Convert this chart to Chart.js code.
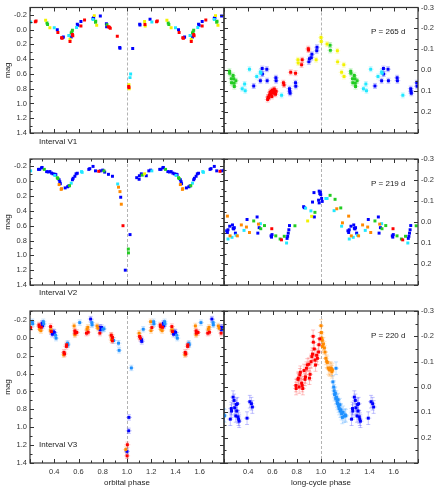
<!DOCTYPE html>
<html>
<head>
<meta charset="utf-8">
<script src="https://cdn.jsdelivr.net/npm/chart.js@4.4.0/dist/chart.umd.min.js"></script>
<style>
  body { margin: 0; background: #fff; }
  #wrap { position: relative; width: 436px; height: 489px; }
  canvas { position: absolute; left: 0; top: 0; }
</style>
</head>
<body>
<div id="wrap">
  <canvas id="p0" width="436" height="489"></canvas>
  <canvas id="p1" width="436" height="489"></canvas>
  <canvas id="p2" width="436" height="489"></canvas>
  <canvas id="p3" width="436" height="489"></canvas>
  <canvas id="p4" width="436" height="489"></canvas>
  <canvas id="p5" width="436" height="489"></canvas>
</div>
<script>
// tick labels
const phaseTicks = [0.4, 0.6, 0.8, 1.0, 1.2, 1.4, 1.6];
const orbMagTicks = [-0.2, 0.0, 0.2, 0.4, 0.6, 0.8, 1.0, 1.2, 1.4];
const longMagTicks = [-0.3, -0.2, -0.1, 0.0, 0.1, 0.2];
const intervals = ['Interval V1', 'Interval V2', 'Interval V3'];
const periods = ['P = 265 d', 'P = 219 d', 'P = 220 d'];

// [phase, mag] -- interval V1, orbital phase
const v1OrbRed = [[0.244,-0.108],[0.25,-0.116],[0.43,0.04],[0.46,0.11],[0.465,0.116],[0.53,0.16],[0.55,0.067],[0.553,0.082],[0.62,-0.05],[0.65,-0.13],[0.846,-0.04],[0.855,-0.032],[0.862,-0.02],[0.92,0.09],[0.014,0.77],[0.016,0.783],[0.148,-0.07]];
const v1OrbYellow = [[0.329,-0.127],[0.364,-0.026],[0.53,0.13],[0.73,-0.19],[0.75,-0.06],[0.016,0.745],[0.018,0.8],[0.145,-0.11],[0.15,-0.05]];
const v1OrbGreen = [[0.34,-0.09],[0.345,-0.07],[0.54,0.045],[0.545,0.03],[0.55,0.007],[0.74,-0.1],[0.742,-0.115],[0.835,-0.065]];
const v1OrbCyan = [[0.205,-0.104],[0.4,-0.026],[0.52,0.08],[0.584,-0.03],[0.72,-0.138],[0.025,0.65],[0.03,0.6]];
const v1OrbBlue = [[0.425,0.0],[0.47,0.108],[0.475,0.1],[0.54,0.1],[0.59,-0.075],[0.595,-0.06],[0.62,-0.11],[0.72,-0.15],[0.725,-0.16],[0.78,-0.186],[0.83,-0.08],[0.832,-0.04],[0.94,0.24],[0.942,0.252],[0.047,0.255],[0.105,-0.075],[0.107,-0.063],[0.19,-0.14]];

// interval V1, long-cycle phase
const v1LongGreen = [[0.245,0.005],[0.247,0.015],[0.26,0.04],[0.262,0.06],[0.275,0.025],[0.28,0.04],[0.283,0.062],[0.285,0.078],[0.298,0.05],[0.075,-0.12],[0.077,-0.095]];
const v1LongCyan = [[0.35,0.088],[0.37,0.066],[0.375,0.098],[0.41,-0.005],[0.47,0.03],[0.5,0.008],[0.505,0.015],[0.675,0.12]];
const v1LongBlue = [[0.445,0.075],[0.5,0.05],[0.515,-0.008],[0.517,0.018],[0.553,-0.005],[0.556,0.05],[0.628,0.036],[0.63,0.05],[0.74,0.088],[0.742,0.1],[0.745,0.11],[0.79,0.06],[0.792,0.077],[0.9,-0.04],[0.905,-0.055],[0.92,-0.06],[0.925,-0.076],[0.965,-0.093],[0.967,-0.11]];
const v1LongRed = [[0.56,0.14],[0.563,0.128],[0.57,0.13],[0.575,0.118],[0.58,0.105],[0.585,0.112],[0.59,0.1],[0.595,0.125],[0.6,0.095],[0.605,0.11],[0.61,0.1],[0.615,0.09],[0.62,0.105],[0.625,0.115],[0.63,0.1],[0.69,0.06],[0.695,0.07],[0.75,0.01],[0.79,0.014],[0.84,-0.026],[0.845,-0.05],[0.895,-0.103],[0.897,-0.097]];
const v1LongYellow = [[0.81,-0.05],[0.812,-0.035],[0.96,-0.05],[0.0,-0.157],[0.002,-0.137],[0.05,-0.125],[0.135,-0.093],[0.137,-0.04],[0.17,0.01],[0.19,0.03],[0.188,-0.026]];

// interval V2, orbital phase
const v2OrbBlue = [[0.27,-0.16],[0.28,-0.16],[0.295,-0.18],[0.3,-0.186],[0.337,-0.13],[0.35,-0.125],[0.364,-0.13],[0.378,-0.11],[0.39,-0.1],[0.405,-0.095],[0.413,-0.09],[0.44,-0.02],[0.446,0.007],[0.45,0.033],[0.49,0.09],[0.51,0.075],[0.52,0.063],[0.55,-0.02],[0.556,-0.04],[0.57,-0.067],[0.58,-0.1],[0.59,-0.108],[0.685,-0.16],[0.693,-0.17],[0.72,-0.2],[0.74,-0.14],[0.78,-0.14],[0.8,-0.15],[0.816,-0.123],[0.847,-0.093],[0.88,-0.067],[0.948,0.216],[0.986,1.2],[0.025,0.72],[0.08,-0.048],[0.1,-0.026],[0.102,-0.074],[0.118,-0.1],[0.159,-0.074],[0.18,-0.14],[0.195,-0.15]];
const v2OrbCyan = [[0.205,-0.14],[0.405,-0.078],[0.54,0.026],[0.625,-0.13],[0.63,-0.12],[0.923,0.037]];
const v2OrbGreen = [[0.318,-0.16],[0.425,-0.048],[0.43,-0.037],[0.526,0.06],[0.81,-0.14],[0.011,0.915],[0.012,0.967],[0.126,-0.082]];
const v2OrbOrange = [[0.44,0.045],[0.457,0.11],[0.46,0.1],[0.93,0.08],[0.942,0.14],[0.953,0.31]];
const v2OrbRed = [[0.767,-0.134],[0.967,0.6]];
const v2OrbYellow = [[0.145,-0.1]];

// interval V2, long-cycle phase
const v2LongBlue = [[0.222,0.042],[0.228,0.05],[0.233,0.037],[0.247,0.02],[0.27,0.014],[0.275,0.03],[0.28,0.033],[0.285,0.027],[0.294,0.053],[0.39,-0.012],[0.473,-0.024],[0.479,0.053],[0.49,0.027],[0.588,0.066],[0.592,0.072],[0.596,0.06],[0.72,0.078],[0.725,0.068],[0.73,0.053],[0.735,0.037],[0.74,0.017],[0.857,-0.073],[0.862,-0.068],[0.93,-0.095],[0.942,-0.14],[0.945,-0.024],[0.985,-0.147],[0.99,-0.135],[0.995,-0.142],[0.998,-0.13],[0.98,-0.104],[0.985,-0.091],[0.005,-0.112],[0.01,-0.098]];
const v2LongCyan = [[0.233,0.081],[0.266,0.073],[0.3,0.063],[0.365,0.04],[0.5,0.008],[0.716,0.1],[0.873,-0.066],[0.917,-0.053],[0.04,-0.112],[0.05,-0.112],[0.108,-0.054],[0.17,0.02]];
const v2LongOrange = [[0.228,-0.028],[0.25,0.066],[0.31,0.066],[0.343,0.014],[0.385,0.024],[0.41,0.05],[0.484,0.01],[0.13,-0.063],[0.177,0.004]];
const v2LongGreen = [[0.445,-0.005],[0.503,0.032],[0.534,0.017],[0.627,0.066],[0.663,0.081],[0.697,0.068],[0.785,0.018],[0.95,-0.046],[0.075,-0.127],[0.116,-0.108],[0.163,-0.067]];
const v2LongRed = [[0.594,0.032],[0.674,0.085]];
const v2LongYellow = [[0.89,-0.005],[0.923,-0.027]];

// interval V3, orbital phase
const v3OrbLightBlue = [[0.219,-0.18],[0.222,-0.156],[0.31,-0.18],[0.313,-0.156],[0.41,-0.03],[0.415,0.004],[0.51,0.06],[0.513,0.078],[0.61,-0.17],[0.71,-0.17],[0.712,-0.144],[0.8,-0.096],[0.81,-0.1],[0.89,0.03],[0.93,0.06],[0.935,0.14],[0.036,0.337],[0.134,-0.096]];
const v3OrbBlue = [[0.3,-0.163],[0.303,-0.133],[0.384,-0.04],[0.395,-0.067],[0.4,-0.06],[0.7,-0.21],[0.776,-0.118],[0.78,-0.089],[0.79,-0.115],[0.0,1.27],[0.016,0.89],[0.014,1.04],[0.12,0.022],[0.122,0.04]];
const v3OrbRed = [[0.205,-0.115],[0.274,-0.144],[0.277,-0.126],[0.293,-0.118],[0.37,-0.126],[0.376,-0.07],[0.48,0.163],[0.485,0.18],[0.5,0.096],[0.502,0.078],[0.57,-0.078],[0.572,-0.052],[0.586,-0.06],[0.666,-0.052],[0.68,-0.063],[0.776,-0.052],[0.87,-0.03],[0.88,-0.004],[0.88,0.033],[0.003,1.196],[0.001,1.32],[0.104,-0.015],[0.11,0.004]];
const v3OrbOrange = [[0.28,-0.096],[0.29,-0.08],[0.37,-0.089],[0.372,-0.078],[0.478,0.19],[0.564,-0.133],[0.57,-0.033],[0.677,-0.118],[0.67,-0.096],[0.753,-0.133],[0.76,-0.107],[0.87,-0.022],[0.872,0.022],[0.99,1.25],[0.1,-0.052],[0.195,-0.18],[0.198,-0.08]];

// interval V3, long-cycle phase
const v3LongBlue = [[0.252,0.127],[0.26,0.085],[0.262,0.095],[0.275,0.04],[0.283,0.053],[0.288,0.082],[0.297,0.114],[0.302,0.069],[0.305,0.095],[0.31,0.066],[0.315,0.118],[0.32,0.127],[0.325,0.135],[0.39,0.123],[0.413,0.058],[0.426,0.066],[0.434,0.079]];
const v3LongLightBlue = [[0.205,0.114],[0.098,-0.02],[0.105,0.0],[0.108,0.015],[0.112,0.03],[0.118,0.025],[0.122,0.045],[0.124,-0.074],[0.127,0.04],[0.132,0.055],[0.136,0.065],[0.14,0.05],[0.145,0.075],[0.15,0.085],[0.155,0.07],[0.16,0.095],[0.165,0.09],[0.17,0.105],[0.176,0.12],[0.182,0.1],[0.19,0.115],[0.2,0.11]];
const v3LongRed = [[0.793,-0.006],[0.795,0.006],[0.81,-0.03],[0.813,-0.035],[0.82,0.0],[0.826,-0.048],[0.83,-0.058],[0.84,-0.015],[0.845,-0.006],[0.85,0.006],[0.86,-0.065],[0.868,-0.03],[0.872,-0.04],[0.88,-0.074],[0.887,-0.087],[0.9,-0.09],[0.905,-0.035],[0.91,-0.05],[0.918,-0.1],[0.925,-0.12],[0.93,-0.13],[0.935,-0.2],[0.937,-0.177],[0.945,-0.15],[0.95,-0.106],[0.955,-0.087],[0.964,-0.125],[0.97,-0.113],[0.98,-0.138],[0.983,-0.167],[0.99,-0.19]];
const v3LongOrange = [[0.0,-0.242],[0.003,-0.215],[0.006,-0.193],[0.01,-0.184],[0.012,-0.16],[0.02,-0.17],[0.028,-0.154],[0.033,-0.138],[0.04,-0.113],[0.047,-0.102],[0.052,-0.097],[0.06,-0.075],[0.067,-0.07],[0.073,-0.067],[0.08,-0.075],[0.086,-0.072],[0.09,-0.06],[0.094,-0.067]];

const RED = '#ff0000', ORANGE = '#ff8a00', YELLOW = '#f2f200', GREEN = '#22cc22',
      CYAN = '#20e8ff', LIGHTBLUE = '#1e90ff', BLUE = '#0000ff';

const W = 436, H = 489;
const rowTops = [7, 159, 311];
const rowBottoms = [159, 311, 463];
const tickFont = { family: "'Liberation Sans', Arial, sans-serif", size: 7.5 };
const titleFont = { family: "'Liberation Sans', Arial, sans-serif", size: 8 };

// phase plot: each phase shown at p and (unless once) at p+1, where it falls in 0.2..1.8
function fold(pairs, once) {
  const out = [];
  for (const [p, m] of pairs) {
    if (p >= 0.2) out.push({ x: p, y: m });
    if (p < 0.2 || (!once && p + 1 <= 1.8)) {
      if (p + 1 <= 1.8) out.push({ x: p + 1, y: m });
    }
  }
  return out;
}

const panelPlugin = {
  id: 'panel',
  beforeDatasetsDraw(chart, args, o) {
    const { ctx, chartArea: a, scales: { x, y } } = chart;
    ctx.save();
    ctx.beginPath();
    ctx.rect(a.left, a.top, a.width, a.height);
    ctx.clip();
    const px = Math.round(x.getPixelForValue(1.0)) + 0.5;
    ctx.strokeStyle = '#a0a0a0';
    ctx.lineWidth = 0.8;
    ctx.setLineDash([3, 2]);
    ctx.beginPath();
    ctx.moveTo(px, a.top);
    ctx.lineTo(px, a.bottom);
    ctx.stroke();
    ctx.setLineDash([]);
    if (o.err) {
      ctx.globalAlpha = 0.3;
      ctx.lineWidth = 0.8;
      chart.data.datasets.forEach(ds => {
        ctx.strokeStyle = ds.backgroundColor;
        ctx.beginPath();
        ds.data.forEach(p => {
          const cx = x.getPixelForValue(p.x);
          const y1 = y.getPixelForValue(p.y - o.err);
          const y2 = y.getPixelForValue(p.y + o.err);
          ctx.moveTo(cx, y1); ctx.lineTo(cx, y2);
          ctx.moveTo(cx - 2, y1); ctx.lineTo(cx + 2, y1);
          ctx.moveTo(cx - 2, y2); ctx.lineTo(cx + 2, y2);
          ctx.moveTo(cx - 3, (y1 + y2) / 2); ctx.lineTo(cx + 3, (y1 + y2) / 2);
        });
        ctx.stroke();
      });
    }
    ctx.restore();
  },
  afterDraw(chart, args, o) {
    const { ctx, chartArea: a, scales: { x, y } } = chart;
    ctx.save();
    ctx.strokeStyle = '#333';
    ctx.lineWidth = 1;
    ctx.beginPath();
    // x ticks every 0.1, major every 0.2
    for (let k = 2; k <= 18; k++) {
      const len = k % 2 === 0 ? 4 : 2.5;
      const px = Math.round(x.getPixelForValue(k / 10)) + 0.5;
      ctx.moveTo(px, a.bottom); ctx.lineTo(px, a.bottom - len);
      ctx.moveTo(px, a.top); ctx.lineTo(px, a.top + len);
    }
    // y ticks
    const n0 = Math.round(y.min / o.yStep), n1 = Math.round(y.max / o.yStep);
    for (let k = n0; k <= n1; k++) {
      const len = k % 2 === 0 ? 4 : 2.5;
      const py = Math.round(y.getPixelForValue(k * o.yStep)) + 0.5;
      ctx.moveTo(a.left, py); ctx.lineTo(a.left + len, py);
      ctx.moveTo(a.right, py); ctx.lineTo(a.right - len, py);
    }
    ctx.stroke();
    ctx.lineWidth = 1.2;
    ctx.strokeRect(a.left, a.top, a.width, a.height);
    // panel note
    ctx.fillStyle = '#222';
    ctx.font = "8px 'Liberation Sans', Arial, sans-serif";
    ctx.textBaseline = 'middle';
    ctx.textAlign = 'left';
    ctx.fillText(o.note, a.left + o.noteDx, a.top + o.noteDy);
    ctx.restore();
  }
};

function panel(id, col, row, sets, err) {
  const left = col === 0;
  const bottom = row === 2;
  new Chart(document.getElementById(id), {
    type: 'scatter',
    data: {
      datasets: sets.map(([pairs, color, once]) => ({
        data: fold(pairs, once),
        backgroundColor: color,
        borderColor: color,
        borderWidth: 0,
        pointStyle: 'rect',
        pointRadius: 2.1,
        pointHoverRadius: 2.1
      }))
    },
    options: {
      responsive: false,
      animation: false,
      devicePixelRatio: 1,
      events: [],
      layout: {
        padding: {
          left: left ? 0 : 224,
          right: left ? W - 224 : 0,
          top: rowTops[row],
          bottom: bottom ? 0 : H - rowBottoms[row]
        }
      },
      plugins: {
        legend: { display: false },
        tooltip: { enabled: false },
        panel: {
          err: err,
          yStep: left ? 0.1 : 0.05,
          note: left ? intervals[row] : periods[row],
          noteDx: left ? 9 : 147,
          noteDy: left ? 134 : 24.5
        }
      },
      scales: {
        x: {
          type: 'linear',
          min: 0.2,
          max: 1.8,
          display: bottom,
          grid: { display: false, drawTicks: false },
          border: { display: false },
          afterBuildTicks: s => { s.ticks = phaseTicks.map(v => ({ value: v })); },
          afterFit: s => { s.height = H - rowBottoms[2]; },
          ticks: { font: tickFont, color: '#333', padding: 4, maxRotation: 0, autoSkip: false,
                   callback: v => v.toFixed(1) },
          title: { display: true, text: left ? 'orbital phase' : 'long-cycle phase',
                   font: titleFont, color: '#222', padding: { top: 0, bottom: 1 } }
        },
        y: {
          type: 'linear',
          position: left ? 'left' : 'right',
          reverse: true,
          min: -0.3,
          max: left ? 1.4 : 0.3,
          grid: { display: false, drawTicks: false },
          border: { display: false },
          afterBuildTicks: s => { s.ticks = (left ? orbMagTicks : longMagTicks).map(v => ({ value: v })); },
          afterFit: s => { s.width = left ? 30 : W - 418; },
          ticks: { font: tickFont, color: '#333', padding: 3, autoSkip: false,
                   callback: v => v.toFixed(1) },
          title: { display: left, text: 'mag', font: titleFont, color: '#222', padding: { top: 3, bottom: 0 } }
        }
      }
    },
    plugins: [panelPlugin]
  });
}

panel('p0', 0, 0, [[v1OrbRed, RED], [v1OrbYellow, YELLOW], [v1OrbGreen, GREEN], [v1OrbCyan, CYAN], [v1OrbBlue, BLUE]], 0);
panel('p1', 1, 0, [[v1LongRed, RED, true], [v1LongYellow, YELLOW], [v1LongGreen, GREEN], [v1LongCyan, CYAN], [v1LongBlue, BLUE]], 0.012);
panel('p2', 0, 1, [[v2OrbRed, RED], [v2OrbOrange, ORANGE], [v2OrbYellow, YELLOW], [v2OrbGreen, GREEN], [v2OrbCyan, CYAN], [v2OrbBlue, BLUE]], 0);
panel('p3', 1, 1, [[v2LongRed, RED], [v2LongOrange, ORANGE], [v2LongYellow, YELLOW], [v2LongGreen, GREEN], [v2LongCyan, CYAN], [v2LongBlue, BLUE]], 0);
panel('p4', 0, 2, [[v3OrbRed, RED], [v3OrbOrange, ORANGE], [v3OrbLightBlue, LIGHTBLUE], [v3OrbBlue, BLUE]], 0.03);
panel('p5', 1, 2, [[v3LongRed, RED, true], [v3LongOrange, ORANGE], [v3LongLightBlue, LIGHTBLUE], [v3LongBlue, BLUE]], 0.025);
</script>
</body>
</html>
